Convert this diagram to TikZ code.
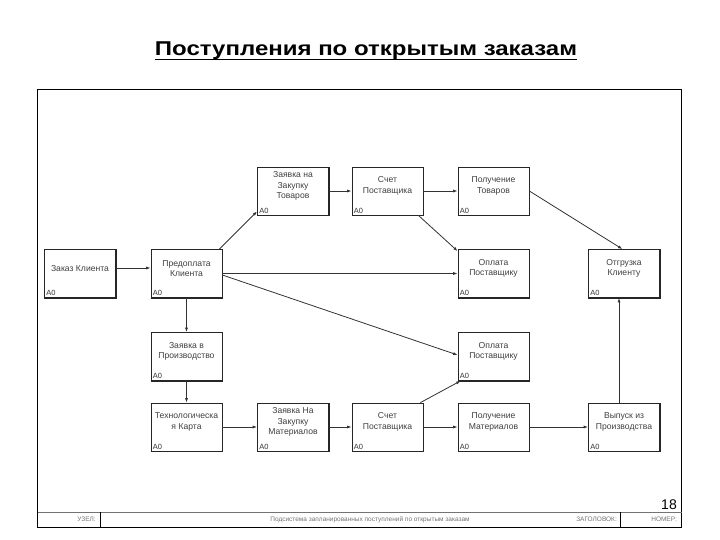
\documentclass[tikz,border=0pt]{standalone}
\usepackage{fontspec}
\setmainfont{Liberation Sans}
\usetikzlibrary{arrows.meta}

\tikzset{
    blk/.style={draw=black!85, fill=white, line width=0.7pt, minimum width=71pt,
        minimum height=48pt, inner sep=0pt,
        label={[blktxt, yshift=5pt]center:#1},
        label={[azero]south west:A0}},
    blktxt/.style={font=\fontsize{8.6}{10.3}\selectfont, text=black!75, align=center, inner sep=0pt},
    azero/.style={anchor=south west, font=\fontsize{7.5}{8}\selectfont, text=black!80, inner sep=2pt},
    arr/.style={-{Latex[length=4.5pt,width=3pt]}, draw=black!80, line width=0.8pt},
    foot/.style={font=\fontsize{6.5}{7}\selectfont, text=black!55, inner sep=0pt}
}

\begin{document}
\begin{tikzpicture}[x=1pt, y=-1pt]
    \useasboundingbox (0,0) rectangle (720,540);
    % Title
    \node[anchor=base, inner sep=0pt, font=\fontsize{20}{22}\selectfont\bfseries] (title) at (366,56) {\scalebox{1.2}[1]{Поступления по открытым заказам}};
    \draw[line width=1.6pt] ([yshift=-3.5pt]title.base west) -- ([yshift=-3.5pt]title.base east);
    % Frame and footer
    \draw[line width=1pt] (37.5,90) rectangle (681.5,527);
    \draw[black!55, line width=1pt] (37.5,512) -- (681.5,512);
    \draw[line width=1pt] (100,512) -- (100,527);
    \draw[line width=1pt] (620,512) -- (620,527);
    \node[foot, anchor=east] (uzel) at (96,519.5) {УЗЕЛ:};
    \node[foot] (podsist) at (370,519.5) {Подсистема запланированных поступлений по открытым заказам};
    \node[foot, anchor=east] (zagol) at (617,519.5) {ЗАГОЛОВОК:};
    \node[foot, anchor=east] (nomer) at (677,519.5) {НОМЕР:};
    \node[anchor=base east, inner sep=0pt, font=\fontsize{14}{16}\selectfont] (num) at (677,509.5) {18};
    % Blocks
    \node[blk={Заказ Клиента}] (kz) at (80,273.5) {};
    \node[blk={Предоплата\\Клиента}] (pred) at (186.5,273.5) {};
    \node[blk={Заявка на\\Закупку\\Товаров}] (zt) at (293,191) {};
    \node[blk={Счет\\Поставщика}] (st) at (387.5,191) {};
    \node[blk={Получение\\Товаров}] (pt) at (493.5,191) {};
    \node[blk={Оплата\\Поставщику}] (opa) at (493.5,273.5) {};
    \node[blk={Отгрузка\\Клиенту}] (otg) at (624,273.5) {};
    \node[blk={Заявка в\\Производство}] (zp) at (186.5,356.5) {};
    \node[blk={Оплата\\Поставщику}] (opb) at (493.5,356.5) {};
    \node[blk={Технологическа\\я Карта}] (tk) at (186.5,427) {};
    \node[blk={Заявка На\\Закупку\\Материалов}] (zm) at (293,427) {};
    \node[blk={Счет\\Поставщика}] (sm) at (387.5,427) {};
    \node[blk={Получение\\Материалов}] (pm) at (493.5,427) {};
    \node[blk={Выпуск из\\Производства}] (vp) at (624,427) {};
    % Heavier bottom and right edges
    \foreach \n in {kz,pred,zt,st,pt,opa,otg,zp,opb,tk,zm,sm,pm,vp}
        \draw[line width=1.4pt, draw=black!85] (\n.south west) -- (\n.south east) -- (\n.north east);
    % Connectors
    \draw[arr] ([yshift=5.5pt]kz.east) -- ([yshift=5.5pt]pred.west);
    \draw[arr] ([xshift=-3pt]pred.north east) -- ([yshift=4pt]zt.south west);
    \draw[arr] (zt.east) -- (st.west);
    \draw[arr] (st.east) -- (pt.west);
    \draw[arr] ([xshift=-5pt]st.south east) -- ([yshift=-2pt]opa.north west);
    \draw[arr] (pt.east) -- ([xshift=-1.5pt]otg.north);
    \draw[arr] (pred.east) -- (opa.west);
    \draw[arr] ([yshift=-1.5pt]pred.east) -- ([yshift=1.5pt]opb.west);
    \draw[arr] (pred.south) -- (zp.north);
    \draw[arr] (zp.south) -- (tk.north);
    \draw[arr] (tk.east) -- (zm.west);
    \draw[arr] (zm.east) -- (sm.west);
    \draw[arr] (sm.east) -- (pm.west);
    \draw[arr] (pm.east) -- (vp.west);
    \draw[arr] ([xshift=-3pt]sm.north east) -- ([xshift=3pt]opb.south west);
    \draw[arr] ([xshift=-5pt]vp.north) -- ([xshift=-5pt]otg.south);
\end{tikzpicture}
\end{document}
